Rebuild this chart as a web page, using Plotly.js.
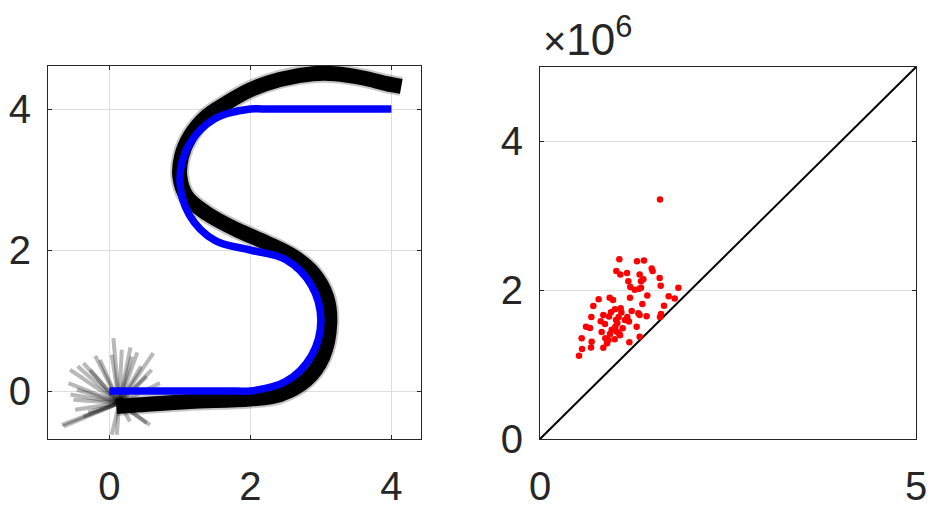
<!DOCTYPE html>
<html>
<head>
<meta charset="utf-8">
<script src="https://cdn.plot.ly/plotly-3.0.1.min.js"></script>
<style>html,body{margin:0;padding:0;background:#fff;}#chart{width:938px;height:514px;}</style>
</head>
<body>
<div id="chart"></div>
<script>
// ---------- Left panel: reference path (blue) ----------
const pathX = [0, 1.8, 2, 2.5, 2.866, 3, 2.866, 2.5, 2, 1.5, 1.134, 1, 1.134, 1.5, 2, 2.2, 4];
const pathY = [0, 0, 0, 0.134, 0.5, 1, 1.5, 1.866, 2, 2.134, 2.5, 3, 3.5, 3.866, 4, 4, 4];

// ---------- Left panel: mean of simulated trajectories (black bundle) ----------
const trajX = [0.10, 0.435, 1.143, 1.993, 2.418, 2.796, 3.03, 3.126, 3.08, 2.89, 2.606, 2.23, 1.80, 1.38, 1.096, 1.0, 1.025, 1.143, 1.38, 1.663, 1.993, 2.418, 2.89, 3.2, 3.6, 3.93, 4.14];
const trajY = [-0.218, -0.194, -0.147, -0.114, -0.052, 0.16, 0.49, 0.964, 1.34, 1.674, 1.91, 2.10, 2.29, 2.52, 2.76, 3.04, 3.33, 3.61, 3.895, 4.085, 4.27, 4.42, 4.50, 4.50, 4.44, 4.36, 4.32];

// ---------- Left panel: initial headings of trajectories (fan) ----------
const fanStartX = 0.14;
const fanStartY = -0.17;
const fanEndX = [0.057, 0.034, 0.176, 0.397, 0.623, 0.317, -0.368, -0.557, -0.58, -0.51, -0.486, -0.65, -0.273, 0.718, 0.53, 0.034, 0.293, 0.576, -0.46, -0.368, -0.132, 0.105, 0.53, -0.674, -0.45, -0.2, 0.45, -0.55, 0.3, -0.3, 0.6, 0.72];
const fanEndY = [0.75, 0.515, 0.586, 0.548, 0.539, 0.49, 0.397, 0.302, 0.113, -0.123, -0.265, -0.50, 0.30, 0.113, 0.207, -0.62, -0.43, -0.478, 0.018, -0.36, 0.444, -0.62, -0.454, -0.478, 0.35, 0.5, 0.35, -0.05, 0.62, -0.3, 0.3, -0.17];

// ---------- Right panel: scatter (x10^6) ----------
const ptsX = [1.596, 1.055, 1.29, 1.383, 1.015, 1.068, 1.157, 1.485, 1.498, 1.325, 1.374, 1.343, 1.591, 1.175, 1.605, 1.84, 1.201, 1.259, 1.321, 1.343, 1.427, 1.711, 1.791, 1.197, 0.926, 0.971, 0.780, 1.361, 0.709, 1.649, 0.997, 1.073, 0.944, 1.082, 1.219, 1.308, 0.683, 0.842, 0.918, 1.418, 1.609, 1.596, 0.807, 1.011, 1.130, 1.183, 1.325, 0.612, 0.665, 0.864, 1.002, 1.285, 0.82, 1.055, 0.931, 1.325, 0.554, 0.869, 0.993, 1.064, 1.188, 0.687, 0.891, 0.559, 0.678, 0.842, 0.519, 1.028, 1.099, 0.953, 1.161, 1.046, 0.909, 1.02];
const ptsY = [3.22, 2.415, 2.39, 2.40, 2.258, 2.21, 2.23, 2.29, 2.258, 2.21, 2.146, 2.12, 2.164, 2.12, 2.06, 2.034, 2.043, 2.007, 2.02, 2.034, 1.93, 1.92, 1.89, 1.90, 1.90, 1.868, 1.877, 1.815, 1.788, 1.79, 1.743, 1.757, 1.703, 1.70, 1.72, 1.689, 1.64, 1.668, 1.645, 1.65, 1.68, 1.64, 1.582, 1.60, 1.60, 1.58, 1.668, 1.51, 1.492, 1.546, 1.51, 1.51, 1.438, 1.411, 1.411, 1.375, 1.353, 1.353, 1.34, 1.393, 1.30, 1.308, 1.286, 1.21, 1.23, 1.227, 1.12, 1.56, 1.49, 1.47, 1.64, 1.64, 1.33, 1.44];
const diagX = [0, 5];
const diagY = [0, 5];
const exponentLabel = '<span style="font-size:40px">×</span>10<sup>6</sup>';

// build fan trace with gaps
const fanX = [], fanY = [];
for (let i = 0; i < fanEndX.length; i++) {
  fanX.push(fanStartX, fanEndX[i], null);
  fanY.push(fanStartY, fanEndY[i], null);
}

const FONT = {family: 'Liberation Sans, Arial, sans-serif', size: 40, color: '#262626'};
const GRID = '#dedede';
const AX = '#262626';

const traces = [
  {x: fanX, y: fanY, type: 'scatter', mode: 'lines', xaxis: 'x', yaxis: 'y',
   line: {color: 'rgba(0,0,0,0.28)', width: 4}, hoverinfo: 'skip', showlegend: false, connectgaps: false},
  {x: trajX, y: trajY, type: 'scatter', mode: 'lines', xaxis: 'x', yaxis: 'y',
   line: {color: 'rgba(0,0,0,0.22)', width: 19, shape: 'spline'}, hoverinfo: 'skip', showlegend: false},
  {x: trajX, y: trajY, type: 'scatter', mode: 'lines', xaxis: 'x', yaxis: 'y',
   line: {color: '#000', width: 15, shape: 'spline'}, showlegend: false},
  {x: pathX, y: pathY, type: 'scatter', mode: 'lines', xaxis: 'x', yaxis: 'y',
   line: {color: '#0000ff', width: 7.5, shape: 'spline'}, showlegend: false},
  {x: diagX, y: diagY, type: 'scatter', mode: 'lines', xaxis: 'x2', yaxis: 'y2',
   line: {color: '#000', width: 2}, showlegend: false},
  {x: ptsX, y: ptsY, type: 'scatter', mode: 'markers', xaxis: 'x2', yaxis: 'y2',
   marker: {color: '#ff0000', size: 6.5}, showlegend: false}
];

const W = 938, H = 514;
function dx(a, b) { return [a / W, b / W]; }
function dy(top, bottom) { return [(H - bottom) / H, (H - top) / H]; }

const common = {
  showline: true, linecolor: AX, linewidth: 1, mirror: 'ticks',
  ticks: 'inside', ticklen: 4, tickcolor: AX, tickwidth: 1,
  showgrid: true, gridcolor: GRID, gridwidth: 1, zeroline: false,
  tickfont: FONT, fixedrange: true
};

const layout = {
  width: W, height: H,
  margin: {l: 0, r: 0, t: 0, b: 0},
  paper_bgcolor: '#fff', plot_bgcolor: '#fff',
  showlegend: false,
  xaxis: Object.assign({}, common, {domain: dx(48, 421), range: [-0.87, 4.42], tickvals: [0, 2, 4], anchor: 'y', ticklabelstandoff: 12}),
  yaxis: Object.assign({}, common, {domain: dy(66, 439), range: [-0.68, 4.61], tickvals: [0, 2, 4], anchor: 'x', ticklabelstandoff: 8}),
  xaxis2: Object.assign({}, common, {domain: dx(540, 916), range: [0, 5], tickvals: [0, 5], anchor: 'y2', ticklabelstandoff: 12}),
  yaxis2: Object.assign({}, common, {domain: dy(67, 439), range: [0, 5], tickvals: [0, 2, 4], anchor: 'x2', ticklabelstandoff: 8}),
  annotations: [{
    xref: 'paper', yref: 'paper', x: 541 / W, y: (H - 66) / H, xanchor: 'left', yanchor: 'bottom',
    text: exponentLabel, showarrow: false, font: Object.assign({}, FONT, {size: 44})
  }]
};

Plotly.newPlot('chart', traces, layout, {displayModeBar: false, staticPlot: true});
</script>
</body>
</html>
